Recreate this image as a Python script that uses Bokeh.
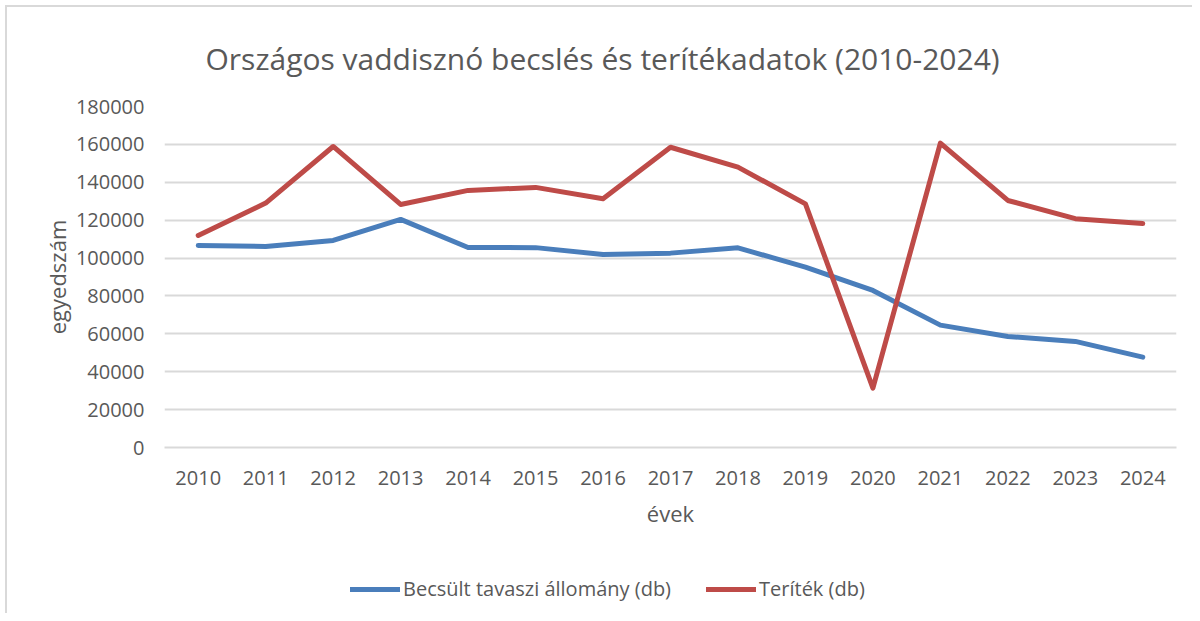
from bokeh.plotting import figure
from bokeh.layouts import column
from bokeh.models import FixedTicker, NumeralTickFormatter, Legend, LegendItem, Range1d, FactorRange
from bokeh.embed import file_html
from bokeh.resources import INLINE

years = ["2010", "2011", "2012", "2013", "2014", "2015", "2016", "2017",
         "2018", "2019", "2020", "2021", "2022", "2023", "2024"]
becsult = [106600, 106100, 109300, 120400, 105600, 105500, 101900, 102600,
           105400, 95200, 82900, 64600, 58600, 56000, 47700]
teritek = [111900, 129000, 158900, 128300, 135700, 137300, 131300, 158500,
           148000, 128600, 31300, 160700, 130400, 120800, 118200]
y_ticks = [0, 20000, 40000, 60000, 80000, 100000, 120000, 140000, 160000, 180000]
series_names = ["Becsült tavaszi állomány (db)", "Teríték (db)"]

FONT = "Open Sans"
TXT = "#595959"
GRID = "#d9d9d9"
BLUE = "#4a7ebb"
RED = "#be4b48"
NAN = float("nan")

W = 1185
p = figure(width=W, height=553, x_range=FactorRange(*years), y_range=Range1d(0, 180000),
           output_backend="svg", toolbar_location=None,
           min_border_left=157, min_border_right=16, min_border_top=99, min_border_bottom=113,
           outline_line_color=None)

p.title.text = "Országos vaddisznó becslés és terítékadatok (2010-2024)"
p.title.text_font = FONT
p.title.text_font_size = "30px"
p.title.text_font_style = "normal"
p.title.text_color = TXT
p.title.align = "left"
p.title.offset = 41
p.title.standoff = 55

r1 = p.line(years, becsult, line_color=BLUE, line_width=5, line_join="round", line_cap="round")
r2 = p.line(years, teritek, line_color=RED, line_width=5, line_join="round", line_cap="round")

p.yaxis.ticker = FixedTicker(ticks=y_ticks)
p.yaxis.formatter = NumeralTickFormatter(format="0")
p.yaxis.axis_line_color = None
p.yaxis.major_tick_line_color = None
p.yaxis.minor_tick_line_color = None
p.yaxis.major_label_standoff = 14
p.yaxis.axis_label = "egyedszám"
p.yaxis.axis_label_standoff = 1

p.xaxis.axis_line_color = GRID
p.xaxis.axis_line_width = 2
p.xaxis.major_tick_line_color = None
p.xaxis.minor_tick_line_color = None
p.xaxis.major_label_standoff = 17
p.xaxis.axis_label = "évek"
p.xaxis.axis_label_standoff = 10

for ax in (p.xaxis, p.yaxis):
    ax.major_label_text_font = FONT
    ax.major_label_text_font_size = "20px"
    ax.major_label_text_color = TXT
    ax.axis_label_text_font = FONT
    ax.axis_label_text_font_size = "22px"
    ax.axis_label_text_font_style = "normal"
    ax.axis_label_text_color = TXT

p.xgrid.grid_line_color = None
p.ygrid.grid_line_color = GRID
p.ygrid.grid_line_width = 2

# legend strip below the chart (its frame is aligned with the chart's frame)
lg = figure(width=W, height=53, x_range=Range1d(0, 1), y_range=Range1d(0, 1),
            output_backend="svg", toolbar_location=None, x_axis_type=None, y_axis_type=None,
            min_border=0, outline_line_color=None)
lg.xgrid.visible = False
lg.ygrid.visible = False
l1 = lg.line(x=[NAN], y=[NAN], line_color=BLUE, line_width=5, line_cap="round")
l2 = lg.line(x=[NAN], y=[NAN], line_color=RED, line_width=5, line_cap="round")
legend = Legend(items=[LegendItem(label=series_names[0], renderers=[l1]),
                       LegendItem(label=series_names[1], renderers=[l2])],
                orientation="horizontal", location=(186, 11),
                label_text_font=FONT, label_text_font_size="20px", label_text_color=TXT,
                glyph_width=50, glyph_height=20, label_standoff=3, spacing=35,
                padding=5, margin=0, border_line_color=None, background_fill_alpha=0)
lg.add_layout(legend, "center")

layout = column(p, lg, spacing=0)
layout.styles = {"border-top": "2px solid #d9d9d9", "border-left": "2px solid #d9d9d9",
                 "margin-left": "5px", "margin-top": "5px"}

open("out.html", "w").write(file_html(layout, INLINE))
